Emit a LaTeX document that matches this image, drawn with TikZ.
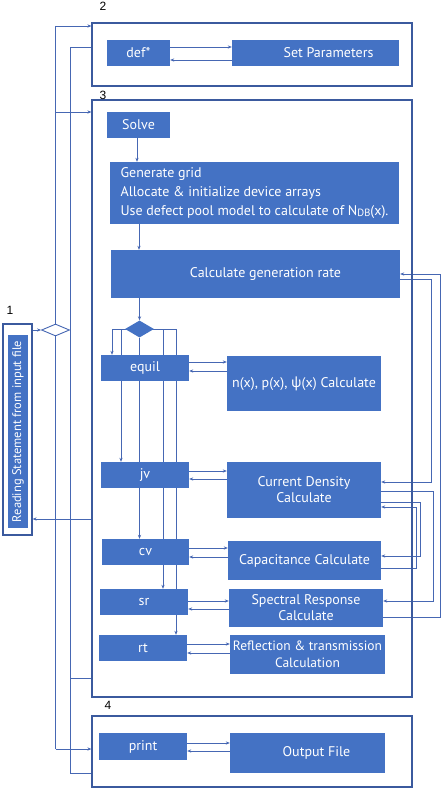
\documentclass[tikz,border=0pt]{standalone}
\usepackage{fontspec}
\setmainfont{PT Sans}
\newfontfamily\grk{Noto Sans}
\newfontfamily\numfont{Liberation Sans}
\usetikzlibrary{shapes.geometric,arrows.meta}
\definecolor{boxblue}{HTML}{4472C4}
\definecolor{lineblue}{HTML}{4667B3}
\definecolor{frameblue}{HTML}{3B5A9E}
\pgfdeclarelayer{bg}\pgfdeclarelayer{lines}\pgfsetlayers{bg,lines,main}
\begin{document}
\begin{tikzpicture}[x=1pt,y=-1pt,
 bluebox/.style={draw=none,fill=boxblue,text=white,inner sep=0pt,font=\fontsize{14}{16}\selectfont,align=center},
 frame/.style={draw=frameblue,line width=1.2pt,fill=none,inner sep=0pt},
 conn/.style={draw=lineblue,line width=0.9pt},
 arr/.style={conn,-{Stealth[length=4pt,width=3.2pt]}},
 num/.style={font=\numfont\fontsize{12}{12}\selectfont,inner sep=0pt,text=black}]
\useasboundingbox (0,0) rectangle (442,789);
% frames
\node[frame,minimum width=320pt,minimum height=63pt] (box2) at (252,54.5) {};
\node[frame,minimum width=320pt,minimum height=597pt] (box3) at (252,398.5) {};
\node[frame,minimum width=320pt,minimum height=71pt] (box4) at (252,751.5) {};
\node[frame,minimum width=29pt,minimum height=211pt] (box1) at (17.5,429.5) {};
\node[bluebox,rotate=90,minimum width=193pt,minimum height=20pt,font=\fontsize{12.5}{14}\selectfont] (read) at (18,431.5) {Reading Statement from input file};
% labels
\node[num] (lbl1) at (10,310) {1};
\node[num] (lbl2) at (103,6) {2};
\node[num] (lbl3) at (103,95) {3};
\node[num] (lbl4) at (108,705) {4};
% boxes
\node[bluebox,minimum width=63pt,minimum height=26pt] (def) at (138.5,53) {def*};
\node[bluebox,minimum width=167pt,minimum height=26pt] (sp) at (315.5,53) {\hspace*{26pt}Set Parameters};
\node[bluebox,minimum width=63pt,minimum height=26pt] (solve) at (138.5,125) {Solve};
\node[bluebox,minimum width=289pt,minimum height=62pt,align=left,font=\fontsize{14}{19}\selectfont] (gen) at (254.5,193) {Generate grid\\Allocate \& initialize device arrays\\Use defect pool model to calculate of N{\fontsize{10.5}{10.5}\selectfont\raisebox{-0.8pt}{DB}}(x).};
\node[bluebox,minimum width=289pt,minimum height=48pt] (calc) at (255.5,274) {\hspace*{20pt}Calculate generation rate};
\node[diamond,fill=boxblue,draw=none,inner sep=0pt,minimum width=29pt,minimum height=17pt] (dia) at (139.5,329) {};
\node[bluebox,minimum width=88pt,minimum height=26pt] (equil) at (145,368) {equil};
\node[bluebox,minimum width=154pt,minimum height=55pt] (nx) at (304,383.5) {n(x), p(x), {\grk ψ}(x) Calculate};
\node[bluebox,minimum width=88pt,minimum height=26pt] (jv) at (145,475) {jv};
\node[bluebox,minimum width=154pt,minimum height=56pt] (cd) at (304,490) {Current Density\\Calculate};
\node[bluebox,minimum width=87pt,minimum height=26pt] (cv) at (145.5,552) {cv};
\node[bluebox,minimum width=153pt,minimum height=39pt] (cap) at (304.5,560.5) {Capacitance Calculate};
\node[bluebox,minimum width=88pt,minimum height=26pt] (sr) at (144,602) {sr};
\node[bluebox,minimum width=154pt,minimum height=38pt] (spec) at (306,608) {Spectral Response\\Calculate};
\node[bluebox,minimum width=88pt,minimum height=26pt] (rt) at (143,648) {rt};
\node[bluebox,minimum width=155pt,minimum height=39pt,font=\fontsize{13.5}{17}\selectfont] (refl) at (307.5,654.5) {Reflection \& transmission\\Calculation};
\node[bluebox,minimum width=88pt,minimum height=27pt] (print) at (143,746.5) {print};
\node[bluebox,minimum width=155pt,minimum height=40pt] (out) at (307.5,753) {\hspace*{18pt}Output File};
\node[diamond,fill=white,draw=lineblue,line width=0.9pt,inner sep=0pt,minimum width=28pt,minimum height=12pt] (ldia) at (55.5,330) {};
% coordinates
\coordinate (b1) at (112,329);
\coordinate (b2) at (121,329);
\coordinate (b4) at (163,329);
\coordinate (b5) at (176,329);
\coordinate (lt) at (55.5,26);
\coordinate (l3) at (55.5,112);
\coordinate (lb) at (55.5,749);
\coordinate (rt1) at (70,47);
\coordinate (rt3) at (70,678);
\coordinate (rt4) at (70,773);
\begin{pgfonlayer}{bg}
\fill[white] (0,0) rectangle (442,789);
\end{pgfonlayer}
\begin{pgfonlayer}{lines}
% top
\draw[arr] (def.east |- 0,47) -- (sp.west |- 0,47);
\draw[arr] (sp.west |- 0,60) -- (def.east |- 0,60);
\draw[arr] (solve.south -| 137,0) -- (gen.north -| 137,0);
\draw[arr] (gen.south -| 139,0) -- (calc.north -| 139,0);
\draw[arr] (calc.south -| dia.north) -- (dia.north);
% diamond branches
\draw[conn] (b1) -- (b5);
\draw[arr] (b1) -- (equil.north -| b1);
\draw[arr] (b2) -- (jv.north -| b2);
\draw[arr] (dia.south) -- (cv.north -| dia.south);
\draw[arr] (b4) -- (sr.north -| b4);
\draw[arr] (b5) -- (rt.north -| b5);
% pairs
\draw[arr] (equil.east |- 0,362) -- (nx.west |- 0,362);
\draw[arr] (nx.west |- 0,371) -- (equil.east |- 0,371);
\draw[arr] (jv.east |- 0,471) -- (cd.west |- 0,471);
\draw[arr] (cd.west |- 0,479) -- (jv.east |- 0,479);
\draw[arr] (cv.east |- 0,548) -- (cap.west |- 0,548);
\draw[arr] (cap.west |- 0,557) -- (cv.east |- 0,557);
\draw[arr] (sr.east |- 0,601) -- (spec.west |- 0,601);
\draw[arr] (spec.west |- 0,609) -- (sr.east |- 0,609);
\draw[arr] (rt.east |- 0,644) -- (refl.west |- 0,644);
\draw[arr] (refl.west |- 0,653) -- (rt.east |- 0,653);
\draw[arr] (print.east |- 0,743) -- (out.west |- 0,743);
\draw[arr] (out.west |- 0,751) -- (print.east |- 0,751);
% right feedback
\draw[arr] (spec.east |- 0,617) -| (440,274) -- (calc.east |- 0,274);
\draw[arr] (calc.east |- 0,279) -| (431,482) -- (cd.east |- 0,482);
\draw[arr] (cd.east |- 0,491) -| (433,601) -- (spec.east |- 0,601);
\draw[arr] (cd.east |- 0,502) -| (420,556) -- (cap.east |- 0,556);
\draw[arr] (cap.east |- 0,568) -| (416,507) -- (cd.east |- 0,507);
% left side
\draw[arr] (box1.east |- ldia.west) -- (ldia.west);
\draw[conn] (lt) -- (lb);
\draw[arr] (lt) -- (box2.west |- lt);
\draw[arr] (l3) -- (box3.west |- l3);
\draw[arr] (lb) -- (box4.west |- lb);
\draw[conn] (box2.west |- rt1) -- (rt1) -- (rt4) -- (box4.west |- rt4);
\draw[conn] (rt3) -- (box3.west |- rt3);
\draw[arr] (box3.west |- 0,519) -- (box1.east |- 0,519);
\end{pgfonlayer}
\end{tikzpicture}
\end{document}
